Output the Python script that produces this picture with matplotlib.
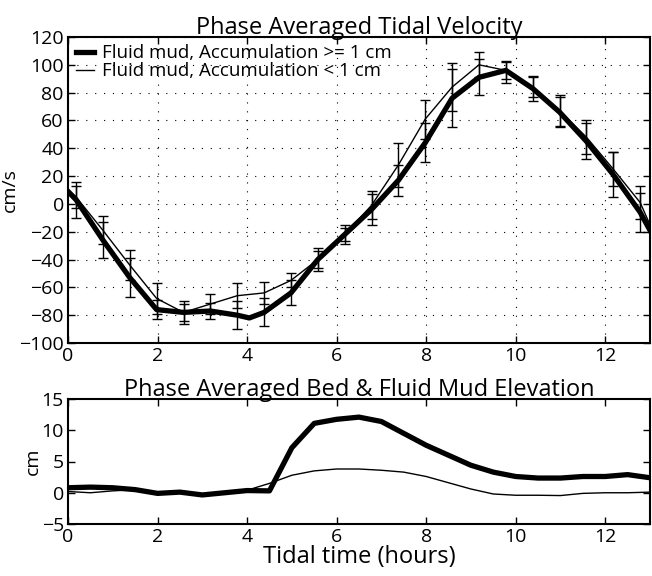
import matplotlib
matplotlib.use("Agg")
import matplotlib.pyplot as plt

plt.rcParams["font.family"] = ["Open Sans", "DejaVu Sans"]

# velocity curves (line points)
vel_t_thick = [0.0, 0.18, 0.78, 1.38, 1.98, 2.58, 3.18, 3.78, 4.05, 4.38, 4.98, 5.58, 6.18, 6.78,
               7.38, 7.98, 8.58, 9.18, 9.78, 10.38, 10.98, 11.58, 12.18, 12.78, 13.0]
vel_thick = [9, 3, -26, -53, -76, -78, -77, -80, -82, -78, -64, -40, -22, -4,
             17, 44, 76, 91, 96, 83, 66, 45, 21, -6, -19]
vel_t_thin = [0.0, 0.18, 0.78, 1.38, 1.98, 2.58, 3.18, 3.78, 4.38, 4.98, 5.58, 6.18, 6.78,
              7.38, 7.98, 8.58, 9.18, 9.78, 10.38, 10.98, 11.58, 12.18, 12.78, 13.0]
vel_thin = [10, 5, -19, -44, -68, -78, -72, -66, -64, -55, -40, -22, -1,
            28, 61, 84, 100, 96, 84, 67, 48, 25, 1, -15]

# error bar samples
err_t = [0.18, 0.78, 1.38, 1.98, 2.58, 3.18, 3.78, 4.38, 4.98, 5.58, 6.18, 6.78,
         7.38, 7.98, 8.58, 9.18, 9.78, 10.38, 10.98, 11.58, 12.18, 12.78]
err_mean_thick = [3, -26, -53, -76, -78, -77, -80, -78, -64, -40, -22, -4,
                  17, 44, 76, 91, 96, 83, 66, 45, 21, -6]
err_thick = [13, 13, 14, 7, 8, 6, 10, 10, 9, 8, 7, 11, 11, 14, 21, 13, 6, 9, 11, 13, 16, 14]
err_mean_thin = [5, -19, -44, -68, -78, -72, -66, -64, -55, -40, -22, -1,
                 28, 61, 84, 100, 95, 84, 67, 48, 25, 1]
err_thin = [8, 10, 11, 11, 6, 7, 9, 8, 5, 6, 5, 10, 16, 14, 17, 9, 8, 7, 11, 12, 12, 12]

# bed / fluid mud elevation
elev_t = [0, 0.5, 1, 1.5, 2, 2.5, 3, 3.5, 4, 4.5, 5, 5.5, 6, 6.5, 7, 7.5, 8, 8.5, 9,
          9.5, 10, 10.5, 11, 11.5, 12, 12.5, 13]
elev_thick = [0.8, 0.9, 0.8, 0.5, -0.1, 0.1, -0.35, 0.0, 0.35, 0.3, 7.2, 11.1, 11.75, 12.1,
              11.4, 9.5, 7.6, 6.0, 4.4, 3.3, 2.6, 2.35, 2.35, 2.6, 2.6, 2.9, 2.4]
elev_thin = [0.2, 0.0, 0.3, 0.5, 0.0, 0.1, -0.3, 0.0, 0.4, 1.5, 2.8, 3.5, 3.8, 3.8,
             3.6, 3.3, 2.6, 1.6, 0.6, -0.2, -0.4, -0.4, -0.45, -0.1, 0.0, 0.0, 0.1]

fig = plt.figure(figsize=(6.52, 5.76), dpi=100)
ax1 = fig.add_axes([68 / 652, 1 - 343 / 576, 582 / 652, 306 / 576])
ax2 = fig.add_axes([68 / 652, 1 - 524 / 576, 582 / 652, 125 / 576])

ax1.plot(vel_t_thick, vel_thick, color="black", lw=3.8, solid_joinstyle="round",
         label="Fluid mud, Accumulation >= 1 cm", zorder=3)
ax1.plot(vel_t_thin, vel_thin, color="black", lw=1.0,
         label="Fluid mud, Accumulation < 1 cm", zorder=3)
ax1.errorbar(err_t, err_mean_thick, yerr=err_thick, fmt="none", ecolor="black",
             elinewidth=1.0, capsize=3.8, capthick=1.0, zorder=4)
ax1.errorbar(err_t, err_mean_thin, yerr=err_thin, fmt="none", ecolor="black",
             elinewidth=1.0, capsize=3.8, capthick=1.0, zorder=4)

ax1.set_xlim(0, 13)
ax1.set_ylim(-100, 120)
ax1.set_xticks(range(0, 13, 2))
ax1.set_yticks(range(-100, 121, 20))
ax1.grid(True, linestyle=(0, (1, 7)), color="black", lw=0.8)
ax1.set_title("Phase Averaged Tidal Velocity", fontsize=17, pad=2)
ax1.set_ylabel("cm/s", fontsize=14, labelpad=0)
ax1.legend(loc="upper left", frameon=False, fontsize=13.5, handlelength=1.0,
           borderaxespad=0.3, borderpad=0.1, labelspacing=0.0, handletextpad=0.4)

ax2.plot(elev_t, elev_thin, color="black", lw=1.0)
ax2.plot(elev_t, elev_thick, color="black", lw=3.8, solid_joinstyle="round")
ax2.set_xlim(0, 13)
ax2.set_ylim(-5, 15)
ax2.set_xticks(range(0, 13, 2))
ax2.set_yticks([-5, 0, 5, 10, 15])
ax2.set_title("Phase Averaged Bed & Fluid Mud Elevation", fontsize=17, pad=2)
ax2.set_ylabel("cm", fontsize=14, labelpad=0)
ax2.set_xlabel("Tidal time (hours)", fontsize=17, labelpad=-1)

for ax in (ax1, ax2):
    ax.tick_params(direction="in", top=True, right=True, length=5, width=1,
                   labelsize=14)
    ax.tick_params(axis="x", pad=3)
    ax.tick_params(axis="y", pad=3)
    for s in ax.spines.values():
        s.set_linewidth(1.5)

fig.savefig("out.png", dpi=100)
